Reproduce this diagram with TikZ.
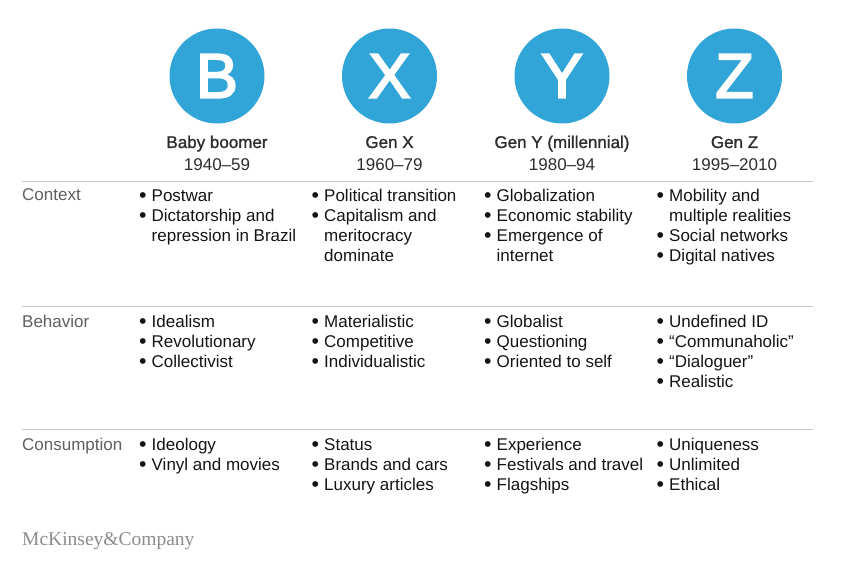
\documentclass[tikz,border=0pt]{standalone}
\usepackage{fontspec}
\setmainfont{Liberation Sans}
\newfontfamily\logofont{Liberation Serif}
\newfontfamily\headfont{Liberation Sans}[FakeBold=1.2]
\newfontfamily\circfont{Liberation Sans}[FakeBold=3]

\definecolor{genblue}{RGB}{50,165,216}
\definecolor{rulegray}{RGB}{200,200,200}
\definecolor{labelgray}{RGB}{95,95,95}
\definecolor{headgray}{RGB}{45,45,45}
\definecolor{logogray}{RGB}{140,140,140}

\newcommand\itm{\strut\makebox[12.5pt][l]{\raisebox{-1.5pt}{\scalebox{1.25}{\textbullet}}}}
\newcommand\cnt{\hphantom{\makebox[12.5pt][l]{\textbullet}}}

\begin{document}
\begin{tikzpicture}[x=1pt, y=-1pt,
	gencircle/.style={circle, fill=genblue, minimum size=95pt, inner sep=0pt, text=white, font=\circfont\fontsize{63}{63}\selectfont},
	genname/.style={anchor=base, text=headgray, font=\headfont\fontsize{17}{20}\selectfont},
	genyear/.style={anchor=base, text=headgray, font=\fontsize{17}{20}\selectfont},
	rowlabel/.style={anchor=base west, inner sep=0pt, text=labelgray, font=\fontsize{17}{20}\selectfont},
	cell/.style={anchor=north west, align=left, inner sep=0pt, text=black!92, font=\fontsize{17}{20}\selectfont},
	rowline/.style={draw=rulegray, line width=1pt}
]
\useasboundingbox (0,0) rectangle (860,580);

%Koordinaten
\def \dx {172.5}
\def \xa {217}
\def \xb {139}
\def \st {14} % Strut-Hoehe

%Kreise & Titel
\foreach \l/\n/\y [count=\i from 0] in {B/Baby boomer/1940--59, X/Gen X/1960--79, Y/Gen Y (millennial)/1980--94, Z/Gen Z/1995--2010}{
	\node[gencircle] (circ\l) at (\xa+\i*\dx,76) {\l};
	\node[genname] (name\l) at (\xa+\i*\dx,148) {\n};
	\node[genyear] (year\l) at (\xa+\i*\dx,171) {\y};
}

%Linien
\foreach \r/\yy in {ctx/182, beh/307, con/429}{
	\coordinate (\r L) at (22,\yy);
	\coordinate (\r R) at (813,\yy);
	\draw[rowline] (\r L) -- (\r R);
}

%Zeilen
\node[rowlabel] (labCtx) at (22,201) {Context};
\node[rowlabel] (labBeh) at (22,327) {Behavior};
\node[rowlabel] (labCon) at (22,450) {Consumption};

%Context
\node[cell] (ctxB) at (\xb,201-\st) {\itm Postwar\\ \itm Dictatorship and\\ \cnt repression in Brazil};
\node[cell] (ctxX) at (\xb+\dx,201-\st) {\itm Political transition\\ \itm Capitalism and\\ \cnt meritocracy\\ \cnt dominate};
\node[cell] (ctxY) at (\xb+2*\dx,201-\st) {\itm Globalization\\ \itm Economic stability\\ \itm Emergence of\\ \cnt internet};
\node[cell] (ctxZ) at (\xb+3*\dx,201-\st) {\itm Mobility and\\ \cnt multiple realities\\ \itm Social networks\\ \itm Digital natives};

%Behavior
\node[cell] (behB) at (\xb,327-\st) {\itm Idealism\\ \itm Revolutionary\\ \itm Collectivist};
\node[cell] (behX) at (\xb+\dx,327-\st) {\itm Materialistic\\ \itm Competitive\\ \itm Individualistic};
\node[cell] (behY) at (\xb+2*\dx,327-\st) {\itm Globalist\\ \itm Questioning\\ \itm Oriented to self};
\node[cell] (behZ) at (\xb+3*\dx,327-\st) {\itm Undefined ID\\ \itm “Communaholic”\\ \itm “Dialoguer”\\ \itm Realistic};

%Consumption
\node[cell] (conB) at (\xb,450-\st) {\itm Ideology\\ \itm Vinyl and movies};
\node[cell] (conX) at (\xb+\dx,450-\st) {\itm Status\\ \itm Brands and cars\\ \itm Luxury articles};
\node[cell] (conY) at (\xb+2*\dx,450-\st) {\itm Experience\\ \itm Festivals and travel\\ \itm Flagships};
\node[cell] (conZ) at (\xb+3*\dx,450-\st) {\itm Uniqueness\\ \itm Unlimited\\ \itm Ethical};

%Logo
\node[anchor=base west, inner sep=0pt, text=logogray, font=\logofont\fontsize{19.5}{20}\selectfont] (logo) at (22,545) {McKinsey\&Company};

\end{tikzpicture}
\end{document}
